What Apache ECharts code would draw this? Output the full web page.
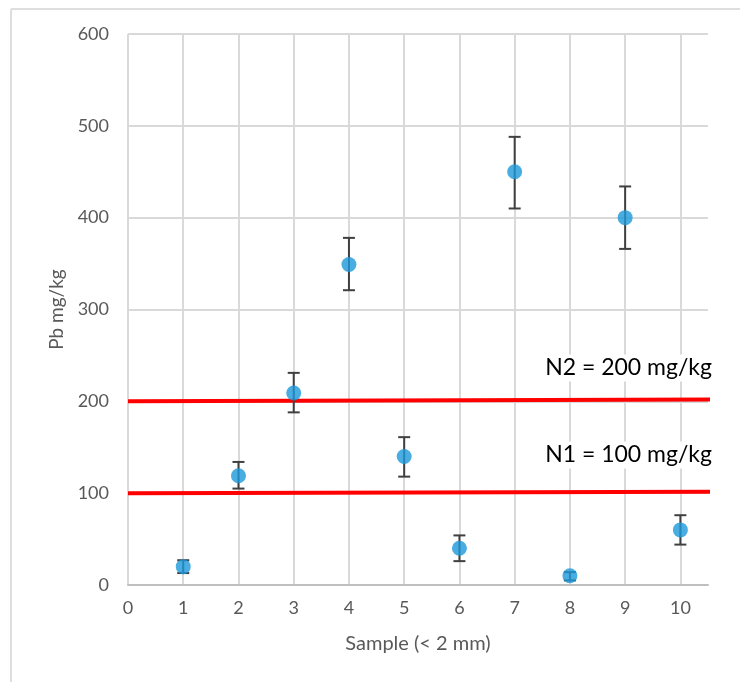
<!DOCTYPE html>
<html>
<head>
<meta charset="utf-8">
<script src="https://cdn.jsdelivr.net/npm/echarts@6/dist/echarts.min.js"></script>
<style>
html,body{margin:0;padding:0;background:#fff;}
#chart{width:740px;height:682px;}
</style>
</head>
<body>
<div id="chart"></div>
<script>
// ---- data ----
const samples = [1, 2, 3, 4, 5, 6, 7, 8, 9, 10];
const pbValues = [20, 119, 209, 349, 140, 40, 450, 10, 400, 60];
const errLow  = [13, 105, 188, 321, 118, 26, 410, 5, 366, 44];
const errHigh = [27, 134, 231, 378, 161, 54, 488, 14, 434, 76];
const n1Line = [[0, 100], [10.65, 101.5]];
const n2Line = [[0, 200], [10.65, 202]];
const n1Label = 'N1 = 100 mg/kg';
const n2Label = 'N2 = 200 mg/kg';
const yTicks = [0, 100, 200, 300, 400, 500, 600];

const FONT = 'Lato';
const chart = echarts.init(document.getElementById('chart'));

const points = samples.map((s, i) => [s, pbValues[i]]);
const bars = samples.map((s, i) => [s, errLow[i], errHigh[i]]);

chart.setOption({
  animation: false,
  backgroundColor: '#fff',
  grid: { left: 128, right: 32, top: 34, bottom: 97 },
  xAxis: {
    type: 'value', min: 0, max: 10.5, interval: 1,
    name: 'Sample (< 2 mm)', nameLocation: 'middle', nameGap: 49,
    nameTextStyle: { color: '#595959', fontSize: 20, fontFamily: FONT },
    axisLine: { show: true, lineStyle: { color: '#bfbfbf', width: 2 } },
    axisTick: { show: false },
    axisLabel: {
      color: '#595959', fontSize: 18, fontFamily: FONT, margin: 14,
      formatter: v => (Number.isInteger(v) ? String(v) : '')
    },
    splitLine: { show: true, showMaxLine: false, lineStyle: { color: '#d9d9d9', width: 2 } }
  },
  yAxis: {
    type: 'value', min: yTicks[0], max: yTicks[yTicks.length - 1], interval: 100,
    name: 'Pb mg/kg', nameLocation: 'middle', nameGap: 60,
    nameTextStyle: { color: '#595959', fontSize: 19, fontFamily: FONT },
    axisLine: { show: false },
    axisTick: { show: false },
    axisLabel: { color: '#595959', fontSize: 18, fontFamily: FONT, margin: 19 },
    splitLine: { show: true, lineStyle: { color: '#d9d9d9', width: 2 } }
  },
  graphic: [
    { type: 'line', shape: { x1: 11, y1: 9, x2: 740, y2: 9 }, style: { stroke: '#dedede', lineWidth: 2 } },
    { type: 'line', shape: { x1: 11, y1: 9, x2: 11, y2: 682 }, style: { stroke: '#dedede', lineWidth: 2 } },
    { type: 'text', z: 100, x: 714, y: 368, style: { text: n2Label, fill: '#000', font: '23px ' + FONT, align: 'right', verticalAlign: 'middle', backgroundColor: '#fff', padding: [2, 2, 2, 6] } },
    { type: 'text', z: 100, x: 714, y: 455, style: { text: n1Label, fill: '#000', font: '23px ' + FONT, align: 'right', verticalAlign: 'middle', backgroundColor: '#fff', padding: [2, 2, 2, 6] } }
  ],
  series: [
    {
      type: 'line', data: n2Line, symbol: 'none', clip: false, z: 3,
      lineStyle: { color: '#ff0000', width: 4 }
    },
    {
      type: 'line', data: n1Line, symbol: 'none', clip: false, z: 3,
      lineStyle: { color: '#ff0000', width: 4 }
    },
    {
      type: 'custom', z: 4, data: bars,
      renderItem: function (params, api) {
        const x = api.value(0);
        const lo = api.coord([x, api.value(1)]);
        const hi = api.coord([x, api.value(2)]);
        const w = 6;
        const st = { stroke: '#404040', lineWidth: 2 };
        return {
          type: 'group', children: [
            { type: 'line', shape: { x1: lo[0], y1: lo[1], x2: hi[0], y2: hi[1] }, style: st },
            { type: 'line', shape: { x1: lo[0] - w, y1: lo[1], x2: lo[0] + w, y2: lo[1] }, style: st },
            { type: 'line', shape: { x1: hi[0] - w, y1: hi[1], x2: hi[0] + w, y2: hi[1] }, style: st }
          ]
        };
      }
    },
    {
      type: 'scatter', z: 5, data: points, symbol: 'circle', symbolSize: 15,
      itemStyle: { color: '#1C98DA' }
    }
  ]
});
</script>
</body>
</html>
